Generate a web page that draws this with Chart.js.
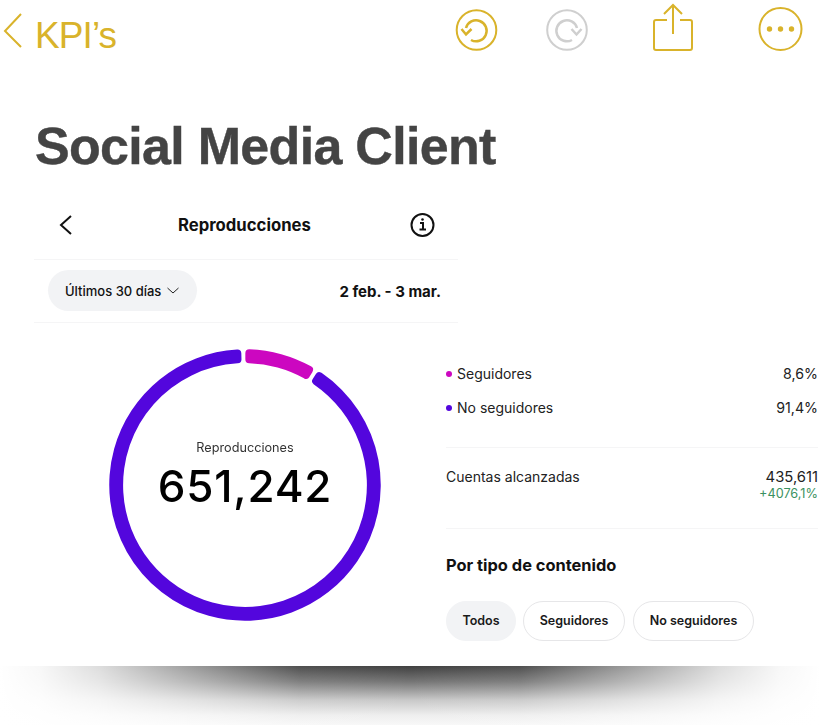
<!DOCTYPE html>
<html lang="es">
<head>
<meta charset="utf-8">
<title>Social Media Client</title>
<script src="https://cdn.jsdelivr.net/npm/chart.js@4"></script>
<style>
    html, body { margin: 0; padding: 0; background: #fff; }
    #page { position: relative; width: 820px; height: 725px; overflow: hidden; font-family: Inter, "Noto Sans", sans-serif; color: #111; }
    #page > * { position: absolute; }
    .txt { white-space: nowrap; line-height: 1; }
    .right { text-align: right; }
    .rule { height: 1px; background: #f5f5f6; }
    .pill { box-sizing: border-box; height: 40px; border-radius: 20px; border: 1px solid #e6e6e8; font-size: 12.5px; font-weight: 600; line-height: 38px; text-align: center; color: #1a1a1a; }
    .dot { width: 6px; height: 6px; border-radius: 50%; }
    #shadow {
        left: 0; top: 666px; width: 820px; height: 59px;
        background:
            linear-gradient(to right,
                rgba(255,255,255,1) 0, rgba(255,255,255,.96) 40px, rgba(255,255,255,.82) 100px,
                rgba(255,255,255,.38) 220px, rgba(255,255,255,.08) 300px, rgba(255,255,255,0) 410px,
                rgba(255,255,255,.08) 520px, rgba(255,255,255,.38) 600px, rgba(255,255,255,.82) 720px,
                rgba(255,255,255,.96) 780px, rgba(255,255,255,1) 820px),
            linear-gradient(to bottom, #404040 0, #777 16px, #c8c8c8 34px, #eee 49px, #f8f8f8 59px);
    }
</style>
</head>
<body>
<div id="page">
    <svg style="left:0;top:0" width="820" height="60" fill="none" stroke="#d9b32b">
        <path d="M21 14 L5 31 L21 47" stroke-width="2"/>
        <circle cx="476.500" cy="30" r="19.800" stroke-width="2"/>
        <path d="M466 28 A10.500 10.500 0 1 1 471 40" stroke-width="2.500"/>
        <path d="M461.500 29 L466 34.500 L471.500 29" stroke-width="2.500"/>
        <circle cx="567" cy="30" r="19.800" stroke="#cfcfcf" stroke-width="2"/>
        <path d="M577 28 A10.500 10.500 0 1 0 572 40" stroke="#cfcfcf" stroke-width="2.500"/>
        <path d="M571.500 29 L576.500 34.500 L581.500 29" stroke="#cfcfcf" stroke-width="2.500"/>
        <path d="M667 20 h-11 a2 2 0 0 0 -2 2 v26 a2 2 0 0 0 2 2 h34 a2 2 0 0 0 2 -2 v-26 a2 2 0 0 0 -2 -2 h-10 M673 34 V5 M664 14 l9 -9 l9 9" stroke-width="2"/>
        <circle cx="780.500" cy="29" r="21" stroke-width="2"/>
        <g fill="#d9b32b" stroke="none"><circle cx="769.500" cy="29" r="2.700"/><circle cx="780.500" cy="29" r="2.700"/><circle cx="791.500" cy="29" r="2.700"/></g>
    </svg>
    <div class="txt" style="left:35px;top:15px;font:37px 'Liberation Sans',sans-serif;color:#d9b32b;letter-spacing:-.9px">KPI’s</div>
    <div class="txt" style="left:35px;top:116px;font:bold 52px 'Liberation Sans',sans-serif;color:#444;letter-spacing:-.7px;-webkit-text-stroke:.4px #444">Social Media Client</div>

    <svg style="left:56px;top:210px" width="385" height="30" fill="none" stroke="#111">
        <path d="M15 6 L5 15 L15 24" stroke-width="2"/>
        <circle cx="366.500" cy="15" r="11" stroke-width="2"/>
        <path d="M364 13 h3 v6.500 M363.500 19.500 h6.500" stroke-width="2"/>
        <circle cx="366.500" cy="9.500" r="1.300" fill="#111" stroke="none"/>
    </svg>
    <div class="txt" style="left:178px;top:217px;font-size:16.700px;font-weight:700">Reproducciones</div>
    <div class="rule" style="left:34px;top:259px;width:424px"></div>
    <div style="left:48px;top:270px;width:149px;height:41px;border-radius:21px;background:#f2f3f5"></div>
    <div class="txt" style="left:65px;top:285px;font-size:13px;font-weight:500">Últimos 30 días</div>
    <svg style="left:166px;top:286px" width="14" height="10" fill="none" stroke="#222"><path d="M1.500 2 L7 7 L12.500 2" stroke-width="1"/></svg>
    <div class="txt right" style="left:300px;width:141px;top:284px;font-size:15px;font-weight:700">2 feb. - 3 mar.</div>
    <div class="rule" style="left:34px;top:322px;width:424px"></div>

    <div style="left:100px;top:340px;width:290px;height:290px"><canvas id="donut"></canvas></div>
    <div class="txt" style="left:145px;width:200px;top:442px;text-align:center;font-size:12.700px;color:#333" id="centerLabel"></div>
    <div class="txt" style="left:125px;width:240px;top:464px;text-align:center;font-size:44px;font-weight:500;color:#000;letter-spacing:.8px" id="centerValue"></div>

    <div id="legendRows" style="left:0;top:0"></div>

    <div class="rule" style="left:446px;top:447px;width:372px"></div>
    <div class="txt" style="left:446px;top:470px;font-size:14px;color:#222">Cuentas alcanzadas</div>
    <div class="txt right" style="left:701px;width:117px;top:470px;font-size:14.800px;color:#222">435,611</div>
    <div class="txt right" style="left:701px;width:117px;top:488px;font-size:12.700px;color:#3a9160">+4076,1%</div>
    <div class="rule" style="left:446px;top:528px;width:372px"></div>
    <div class="txt" style="left:446px;top:557px;font-size:16.400px;font-weight:700">Por tipo de contenido</div>

    <div class="pill" style="left:446px;top:601px;width:70px;border-color:#f2f3f5;background:#f2f3f5">Todos</div>
    <div class="pill" style="left:523px;top:601px;width:102px">Seguidores</div>
    <div class="pill" style="left:633px;top:601px;width:121px">No seguidores</div>

    <div id="shadow"></div>
</div>
<script>
const centerLabel = 'Reproducciones';
const centerValue = '651,242';
const categories = ['Seguidores', 'No seguidores'];
const shares = [8.6, 91.4];
const shareLabels = ['8,6%', '91,4%'];
const colors = ['#cc07c0', '#5306dd'];

document.getElementById('centerLabel').textContent = centerLabel;
document.getElementById('centerValue').textContent = centerValue;

// legend rows on the right
const rows = document.getElementById('legendRows');
categories.forEach((name, i) => {
    const top = 367 + i * 34;
    rows.insertAdjacentHTML('beforeend',
        `<div class="dot" style="position:absolute;left:446px;top:${top + 4}px;background:${colors[i]}"></div>` +
        `<div class="txt" style="position:absolute;left:457px;top:${top}px;font-size:14px;color:#222">${name}</div>` +
        `<div class="txt right" style="position:absolute;left:701px;width:117px;top:${top}px;font-size:14.200px;color:#222">${shareLabels[i]}</div>`);
});

const ctx = document.getElementById('donut').getContext('2d');
new Chart(ctx, {
    type: 'doughnut',
    data: {
        labels: categories,
        datasets: [{
            data: shares,
            backgroundColor: colors,
            borderWidth: 0,
            borderRadius: 4,
            spacing: 2.5
        }]
    },
    options: {
        responsive: true,
        maintainAspectRatio: false,
        animation: false,
        cutout: '89.700%',
        radius: 134.500,
        layout: { padding: 0 },
        plugins: {
            legend: { display: false },
            tooltip: { enabled: false }
        }
    }
});
</script>
</body>
</html>
